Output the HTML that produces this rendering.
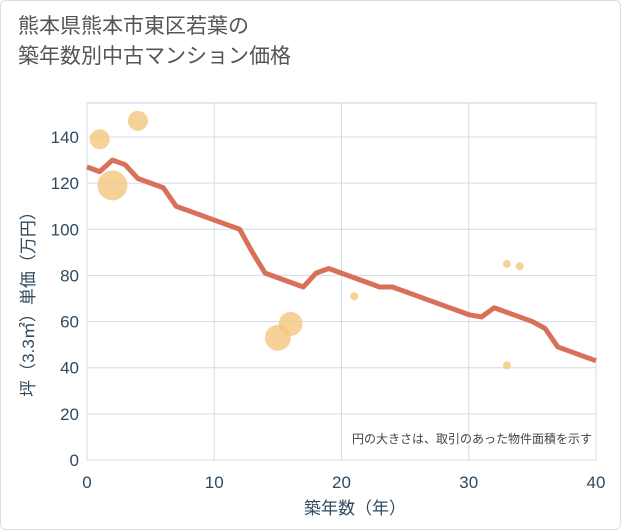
<!DOCTYPE html>
<html><head><meta charset="utf-8"><style>
body{margin:0;background:#fff;font-family:"Liberation Sans","Noto Sans CJK JP",sans-serif;}
#card{position:absolute;left:0;top:0;width:619px;height:528px;border:1px solid #ddd;border-radius:6px;background:#fff;}
#title{position:absolute;left:18px;top:12px;font-size:21px;line-height:30px;color:#555;}
</style></head><body>
<div id="card"></div>
<div id="title">熊本県熊本市東区若葉の<br>築年数別中古マンション価格</div>
<svg id="chart" width="621" height="530" style="position:absolute;left:0;top:0"></svg>
<script>
const lineX=[0,1,2,3,4,5,6,7,8,9,10,11,12,13,14,15,16,17,18,19,20,21,22,23,24,25,26,27,28,29,30,31,32,33,34,35,36,37,38,39,40];
const lineY=[127,125,130,128,122,120,118,110,108,106,104,102,100,90,81,79,77,75,81,83,81,79,77,75,75,73,71,69,67,65,63,62,66,64,62,60,57,49,47,45,43];
const bubX=[1,2,4,15,16,21,33,34,33];
const bubY=[139,119,147,53,59,71,85,84,41];
const bubR=[10,15,10,13,12,4,4,4,4];
const xTicks=[0,10,20,30,40];
const yTicks=[0,20,40,60,80,100,120,140];
const L=87,R=596,T=103,B=460;
const sx=v=>L+(R-L)*v/40, sy=v=>B-(B-137)*v/140;
const svg=document.getElementById('chart');const NS='http://www.w3.org/2000/svg';
function mk(t,a,p){const e=document.createElementNS(NS,t);for(const k in a)e.setAttribute(k,a[k]);(p||svg).appendChild(e);return e;}
let e=mk('rect',{x:L,y:T,width:R-L,height:B-T,fill:'#fff',stroke:'#c8d2dc'});


yTicks.forEach(v=>{const g=mk('line',{x1:L,x2:R,y1:sy(v),y2:sy(v),stroke:'#d0dce8'});


const t=mk('text',{x:L-8,y:sy(v)+6,'text-anchor':'end','font-size':17,fill:'#2f4a5f'});t.textContent=v;

});
xTicks.forEach(v=>{const g=mk('line',{x1:sx(v),x2:sx(v),y1:T,y2:B,stroke:'#d0dce8'});


const t=mk('text',{x:sx(v),y:488,'text-anchor':'middle','font-size':17,fill:'#2f4a5f'});t.textContent=v;

});
bubX.forEach((v,i)=>{const c=mk('circle',{cx:sx(v),cy:sy(bubY[i]),r:bubR[i],fill:'#f5c77e',opacity:0.8});

});
const p=mk('polyline',{points:lineX.map((v,i)=>sx(v)+','+sy(lineY[i])).join(' '),fill:'none',stroke:'#d9705a','stroke-width':5,'stroke-linejoin':'round'});


const n=mk('text',{x:592,y:443,'text-anchor':'end','font-size':12,fill:'#444'});n.textContent='円の大きさは、取引のあった物件面積を示す';


const xl=mk('text',{x:355,y:514,'text-anchor':'middle','font-size':17,fill:'#2f4a5f'});xl.textContent='築年数（年）';


const yl=mk('text',{x:0,y:0,'text-anchor':'middle','font-size':17,fill:'#2f4a5f',transform:'translate(34,300) rotate(-90)'});yl.textContent='坪（3.3㎡）単価（万円）';


</script>
</body></html>
